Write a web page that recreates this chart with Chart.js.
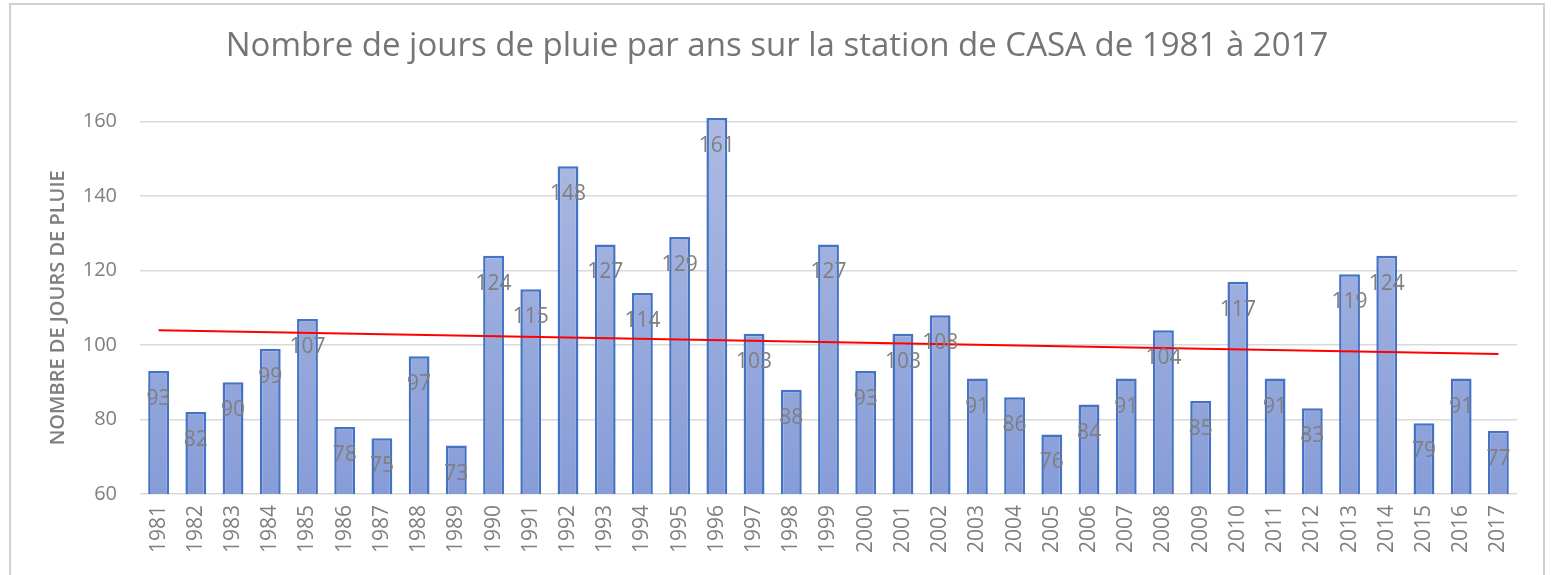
<!DOCTYPE html>
<html>
<head>
<meta charset="utf-8">
<script src="https://cdn.jsdelivr.net/npm/chart.js@4"></script>
<style>
  html, body { margin: 0; padding: 0; background: #fff; }
  #wrap { position: relative; width: 1551px; height: 575px; }
  #frame { position: absolute; left: 9px; top: 3px; width: 1536px; height: 580px;
           border: 2px solid #d0d0d0; box-sizing: border-box; pointer-events: none; }
</style>
</head>
<body>
<div id="wrap">
  <canvas id="myChart" width="1551" height="575"></canvas>
  <div id="frame"></div>
</div>
<script>
// years on the x axis
const years = ["1981","1982","1983","1984","1985","1986","1987","1988","1989","1990",
  "1991","1992","1993","1994","1995","1996","1997","1998","1999","2000",
  "2001","2002","2003","2004","2005","2006","2007","2008","2009","2010",
  "2011","2012","2013","2014","2015","2016","2017"];

// rainy days per year
const rainDays = [93, 82, 90, 99, 107, 78, 75, 97, 73, 124,
  115, 148, 127, 114, 129, 161, 103, 88, 127, 93,
  103, 108, 91, 86, 76, 84, 91, 104, 85, 117,
  91, 83, 119, 124, 79, 91, 77];

// linear trend, read at both ends
const trendStart = 104.0;
const trendEnd = 97.6;
const trend = years.map((y, i) => i === 0 ? trendStart : (i === years.length - 1 ? trendEnd : null));

const yTicks = [60, 80, 100, 120, 140, 160];

const grey = "#7f7f7f";
const fontFam = "'Open Sans', 'Noto Sans', sans-serif";

// value labels a bit below the top of each bar
const barLabels = {
  id: "barLabels",
  afterDatasetsDraw(chart) {
    const ctx = chart.ctx;
    const meta = chart.getDatasetMeta(1);
    ctx.save();
    ctx.font = "21px " + fontFam;
    ctx.fillStyle = grey;
    ctx.textAlign = "center";
    ctx.textBaseline = "middle";
    meta.data.forEach((bar, i) => {
      ctx.fillText(String(rainDays[i]), bar.x, bar.y + 28);
    });
    ctx.restore();
  }
};

const ctx = document.getElementById("myChart").getContext("2d");

const myChart = new Chart(ctx, {
  type: "bar",
  data: {
    labels: years,
    datasets: [
      {
        type: "line",
        label: "Tendance",
        data: trend,
        spanGaps: true,
        borderColor: "#ff0000",
        borderWidth: 2,
        pointRadius: 0,
        fill: false,
        order: 0
      },
      {
        label: "Nombre de jours de pluie",
        data: rainDays,
        clip: { left: 0, top: false, right: 0, bottom: 0 },
        backgroundColor(c) {
          const area = c.chart.chartArea;
          if (!area) return "#98abdc";
          const g = c.chart.ctx.createLinearGradient(0, area.top, 0, area.bottom);
          g.addColorStop(0, "#adbbe3");
          g.addColorStop(1, "#879dd8");
          return g;
        },
        borderColor: "#4472c4",
        borderWidth: 2.5,
        borderSkipped: false,
        barPercentage: 0.56,
        categoryPercentage: 1.0,
        order: 1
      }
    ]
  },
  options: {
    responsive: false,
    animation: false,
    layout: { padding: { left: 37, right: 34, top: 0, bottom: 0 } },
    plugins: {
      legend: { display: false },
      tooltip: { enabled: false },
      title: {
        display: true,
        text: "Nombre de jours de pluie par ans sur la station de CASA de 1981 à 2017",
        color: "#757575",
        font: { family: fontFam, size: 33, weight: "normal" },
        padding: { top: 27, bottom: 55 }
      }
    },
    scales: {
      x: {
        grid: { display: false, drawTicks: false },
        border: { display: false },
        ticks: {
          color: grey,
          font: { family: fontFam, size: 21 },
          minRotation: 90,
          maxRotation: 90,
          padding: 11,
          autoSkip: false
        },
        afterFit(scale) { scale.height = 81; }
      },
      y: {
        min: 60,
        max: 160,
        afterBuildTicks(scale) { scale.ticks = yTicks.map(v => ({ value: v })); },
        grid: { color: "#d9d9d9", lineWidth: 1.5, drawTicks: false },
        border: { display: false },
        ticks: {
          color: grey,
          font: { family: fontFam, size: 20 },
          padding: 23
        },
        title: {
          display: true,
          text: "NOMBRE DE JOURS DE PLUIE",
          color: grey,
          font: { family: fontFam, size: 20, weight: "600" },
          padding: { top: 9, bottom: 0 }
        },
        afterFit(scale) { scale.width = 103; }
      }
    }
  },
  plugins: [barLabels]
});
</script>
</body>
</html>
